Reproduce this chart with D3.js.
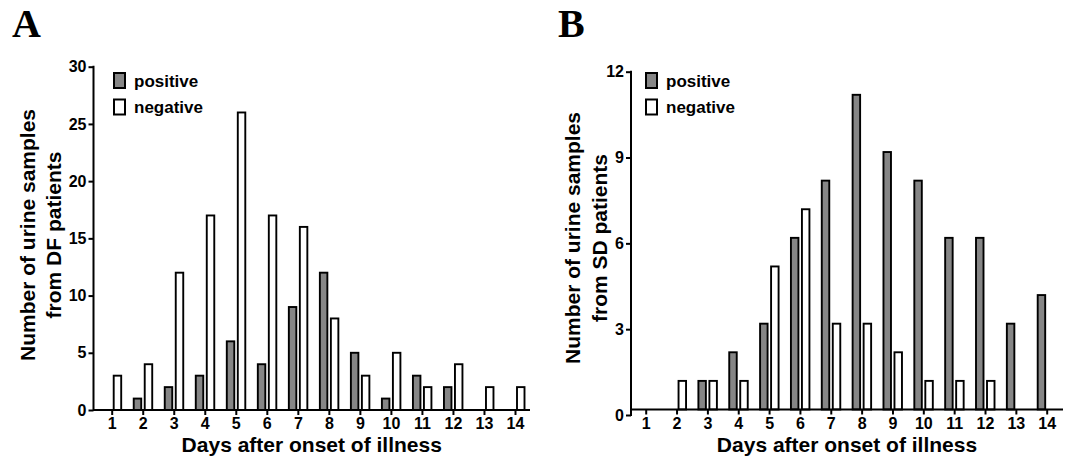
<!DOCTYPE html>
<html>
<head>
<meta charset="utf-8">
<script src="https://cdn.jsdelivr.net/npm/d3@7"></script>
<style>
  html, body { margin: 0; padding: 0; background: #fff; }
  svg { display: block; }
  text { font-family: "Liberation Sans", Arial, sans-serif; font-weight: bold; fill: #000; }
</style>
</head>
<body>
<svg id="chart" width="1070" height="460"></svg>
<script>
// ---- data ----
const days = [1, 2, 3, 4, 5, 6, 7, 8, 9, 10, 11, 12, 13, 14];
const dfPositive = [0, 1, 2, 3, 6, 4, 9, 12, 5, 1, 3, 2, 0, 0];
const dfNegative = [3, 4, 12, 17, 26, 17, 16, 8, 3, 5, 2, 4, 2, 2];
const sdPositive = [0, 0, 1, 2, 3, 6, 8, 11, 9, 8, 6, 6, 3, 4];
const sdNegative = [0, 1, 1, 1, 5, 7, 3, 3, 2, 1, 1, 1, 0, 0];
const dfTicks = [0, 5, 10, 15, 20, 25, 30];
const sdTicks = [0, 3, 6, 9, 12];
const seriesNames = ["positive", "negative"];
const panelLetters = ["A", "B"];
const xTitle = "Days after onset of illness";
const dfYTitle = ["Number of urine samples", "from DF patients"];
const sdYTitle = ["Number of urine samples", "from SD patients"];

const svg = d3.select("#chart");
const FILL_POS = "#868686";
const FILL_NEG = "#ffffff";

function drawPanel(p) {
  const g = svg.append("g");
  // scales
  const x = d3.scalePoint().domain(days).range([p.firstTick, p.lastTick]);
  const yAxisScale = d3.scaleLinear().domain([0, p.yMax]).range([p.yZero, p.yTop]);
  const yBar = d3.scaleLinear().domain([0, p.yMax]).range([p.xAxisY, p.xAxisY - (p.yZero - p.yTop)]);

  // panel letter
  g.append("text").attr("x", p.letterX).attr("y", 37)
    .style("font-family", '"Liberation Serif", "Times New Roman", serif')
    .style("font-size", "40px").text(p.letter);

  // bars
  const data = days.map((d, i) => ({ day: d, pos: p.pos[i], neg: p.neg[i] }));
  g.selectAll("rect.pos").data(data.filter(d => d.pos > 0)).enter().append("rect")
    .attr("x", d => x(d.day) - 9).attr("width", 7.5)
    .attr("y", d => yBar(d.pos)).attr("height", d => yBar(0) - yBar(d.pos))
    .attr("fill", FILL_POS).attr("stroke", "#000").attr("stroke-width", 1.9);
  g.selectAll("rect.neg").data(data.filter(d => d.neg > 0)).enter().append("rect")
    .attr("x", d => x(d.day) + 2).attr("width", 7.5)
    .attr("y", d => yBar(d.neg)).attr("height", d => yBar(0) - yBar(d.neg))
    .attr("fill", FILL_NEG).attr("stroke", "#000").attr("stroke-width", 1.9);

  // y axis
  const yAxis = d3.axisLeft(yAxisScale).tickValues(p.ticks).tickSize(5).tickPadding(2).tickFormat(d3.format("d"));
  const ya = g.append("g").attr("transform", `translate(${p.axisX},0)`).call(yAxis);
  ya.select(".domain").remove();
  ya.append("line").attr("x1", 0).attr("x2", 0).attr("y1", p.yTop - 1).attr("y2", p.yZero + 1)
    .attr("stroke", "#000").attr("stroke-width", 2);
  ya.selectAll(".tick line").attr("stroke", "#000").attr("stroke-width", 2);
  ya.selectAll(".tick text").style("font-size", "16px");

  // x axis
  const xAxis = d3.axisBottom(x).tickSize(5).tickPadding(3);
  const xa = g.append("g").attr("transform", `translate(0,${p.xAxisY})`).call(xAxis);
  xa.select(".domain").remove();
  xa.append("line").attr("x1", p.axisX).attr("x2", p.axisEnd).attr("y1", 0).attr("y2", 0)
    .attr("stroke", "#000").attr("stroke-width", 2);
  xa.selectAll(".tick line").attr("stroke", "#000").attr("stroke-width", 2);
  xa.selectAll(".tick text").style("font-size", "16px");

  // x title
  g.append("text").attr("x", (p.axisX + p.axisEnd) / 2).attr("y", 452)
    .attr("text-anchor", "middle").style("font-size", "21px").text(xTitle);

  // y title
  p.yTitle.forEach((t, i) => {
    const bx = p.yTitleX[i];
    g.append("text").attr("transform", `translate(${bx},${p.yTitleY}) rotate(-90)`)
      .attr("text-anchor", "middle").style("font-size", "21px").text(t);
  });

  // legend
  const fills = [FILL_POS, FILL_NEG];
  seriesNames.forEach((name, i) => {
    const yy = 73 + i * 26.5;
    g.append("rect").attr("x", p.legendX).attr("y", yy).attr("width", 11).attr("height", 15)
      .attr("fill", fills[i]).attr("stroke", "#000").attr("stroke-width", 2);
    g.append("text").attr("x", p.legendX + 20).attr("y", yy + 13.5)
      .style("font-size", "17px").text(name);
  });
}

drawPanel({
  letter: panelLetters[0], letterX: 12,
  pos: dfPositive, neg: dfNegative, ticks: dfTicks, yMax: 30,
  axisX: 93.5, axisEnd: 530, firstTick: 111.7, lastTick: 515,
  yZero: 410, yTop: 66.7, xAxisY: 410,
  yTitle: dfYTitle, yTitleX: [34.5, 61], yTitleY: 235,
  legendX: 114
});

drawPanel({
  letter: panelLetters[1], letterX: 558,
  pos: sdPositive, neg: sdNegative, ticks: sdTicks, yMax: 12,
  axisX: 631, axisEnd: 1063, firstTick: 645.7, lastTick: 1046.7,
  yZero: 415, yTop: 71.7, xAxisY: 409.5,
  yTitle: sdYTitle, yTitleX: [580, 606.5], yTitleY: 238,
  legendX: 646
});
</script>
</body>
</html>
